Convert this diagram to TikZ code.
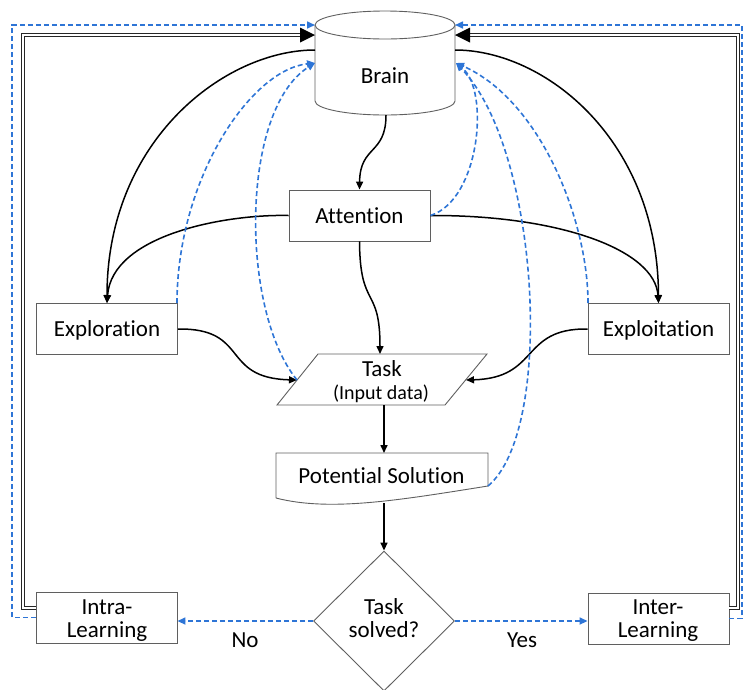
\documentclass[tikz,border=0pt]{standalone}
\usepackage{fontspec}
\setmainfont{Carlito}[Ligatures=NoCommon]
\usetikzlibrary{arrows.meta,shapes.geometric,calc}
\definecolor{dblue}{RGB}{46,117,214}
\definecolor{edge}{RGB}{95,95,95}
\begin{document}
\begin{tikzpicture}[x=1pt,y=-1pt,
  box/.style={draw=edge, line width=0.9pt, fill=white, minimum width=141pt, minimum height=51pt, inner sep=0pt, text height=15pt, text depth=0pt, font=\fontsize{23}{24}\selectfont},
  lbl/.style={font=\fontsize{23}{24}\selectfont, inner sep=0pt},
  small/.style={font=\fontsize{20}{21}\selectfont, inner sep=0pt},
  shp/.style={draw=edge, line width=0.9pt, fill=white},
  blk/.style={draw=black, line width=1.5pt, -{Triangle[length=8pt,width=7pt]}},
  blu/.style={draw=dblue, line width=1.6pt, dash pattern=on 5pt off 3pt, -{Triangle[length=8pt,width=7pt]}},
  dbl/.style={draw=black!85, double=white, line width=1.3pt, double distance=2pt, shorten >=14pt},
  bigtip/.style={fill=black}
]
\useasboundingbox (0,0) rectangle (743,689);

% ---- named coordinates
\coordinate (brainTL) at (315,25);
\coordinate (brainTR) at (455,25);
\coordinate (brainL2) at (315,35);
\coordinate (brainR2) at (455,35);
\coordinate (brainL3) at (315,50);
\coordinate (brainR3) at (455,50);
\coordinate (brainL4) at (315,63);
\coordinate (brainR4) at (456,63);
\coordinate (brainB) at (386,115);
\coordinate (taskN) at (380,354);
\coordinate (taskS) at (384,405);
\coordinate (taskW) at (297,380);
\coordinate (taskE) at (466,380);
\coordinate (solN) at (384,453);
\coordinate (solS) at (384,503);
\coordinate (solE) at (488,486);
\coordinate (explorNE) at (177,303);
\coordinate (exploitNW) at (588,303);
\coordinate (leftOut) at (12,25);
\coordinate (rightOut) at (742,25);
\coordinate (leftIn) at (23,35);
\coordinate (rightIn) at (738,35);
\coordinate (intraD) at (36,608);
\coordinate (interD) at (729,608);

% ---- Brain cylinder
\draw[shp] (315,25) -- (315,101) .. controls (315,108.7) and (346.3,115) .. (385,115)
  .. controls (423.7,115) and (455,108.7) .. (455,101) -- (455,25);
\draw[shp] (385,25) ellipse [x radius=70pt, y radius=14pt];
\node[lbl, anchor=base] (brain) at (385,83) {Brain};

% ---- boxes
\node[box] (att) at (359.5,215.5) {Attention};
\node[box] (explor) at (107,329) {Exploration};
\node[box] (exploit) at (658.5,329) {Exploitation};
\node[box] (intra) at (106.5,617.5) {};
\node[box] (inter) at (658.5,618.5) {};
\node[lbl, anchor=base] (intraA) at (107,614) {Intra-};
\node[lbl, anchor=base] (intraB) at (107,637) {Learning};
\node[lbl, anchor=base] (interA) at (658,614) {Inter-};
\node[lbl, anchor=base] (interB) at (658,637) {Learning};

% ---- Task parallelogram
\draw[shp] (318,354) -- (487,354) -- (445,405) -- (277,405) -- cycle;
\node[lbl, anchor=base] (taskA) at (382,376) {Task};
\node[small, anchor=base] (taskB) at (381,399) {(Input data)};

% ---- Potential solution (document)
\draw[shp] (276,498) -- (276,453) -- (488,453) -- (488,486)
  .. controls (400,500) and (330,512) .. (276,498);
\node[lbl, anchor=base] (sol) at (381.5,483) {Potential Solution};

% ---- decision
\node[diamond, draw=edge, line width=0.9pt, fill=white, minimum width=141pt, minimum height=140pt, aspect=1, inner sep=0pt] (dia) at (384,621) {};
\node[lbl, anchor=base] (diaA) at (384,614) {Task};
\node[lbl, anchor=base] (diaB) at (384,637) {solved?};

\node[lbl, anchor=base] (no) at (245,647) {No};
\node[lbl, anchor=base] (yes) at (522,647) {Yes};

% ---- black connectors
\draw[blk] (brainB) .. controls (386,155) and (360,145) .. (att.north);
\draw[blk] (att.south) .. controls (360,310) and (380,285) .. (taskN);
\draw[blk] (brainL3) .. controls (225,50) and (107,140) .. (explor.north);
\draw[blk] (brainR3) .. controls (545,50) and (658,140) .. (exploit.north);
\draw[blk] (att.west) .. controls (225,214) and (112,235) .. (explor.north);
\draw[blk] (att.east) .. controls (560,215) and (655,250) .. (exploit.north);
\draw[blk] (explor.east) .. controls (250,328) and (220,378) .. (taskW);
\draw[blk] (exploit.west) .. controls (520,328) and (540,378) .. (taskE);
\draw[blk] (taskS) -- (solN);
\draw[blk] (solS) -- (dia.north);

% ---- blue dashed feedback
\draw[blu] (explorNE) .. controls (177,180) and (250,70) .. (brainL4);
\draw[blu] (taskW) .. controls (240,310) and (240,110) .. (brainL4);
\draw[blu] (att.east) .. controls (480,200) and (490,90) .. (brainR4);
\draw[blu] (solE) .. controls (555,430) and (540,150) .. (brainR4);
\draw[blu] (exploitNW) .. controls (588,220) and (540,100) .. (brainR4);
\draw[blu] (dia.west) -- (dia.west -| intra.east);
\draw[blu] (dia.east) -- (dia.east -| inter.west);
\draw[blu] (intra.west) -| (leftOut) -- (brainTL);
\draw[blu] (inter.east) -| (rightOut) -- (brainTR);

% ---- double-line loops
\draw[dbl] (intraD) -| (leftIn) -- (brainL2);
\draw[dbl] (interD) -| (rightIn) -- (brainR2);
\fill[bigtip] (brainL2) -- ($(brainL2)+(-15,-7.5)$) -- ($(brainL2)+(-15,7.5)$) -- cycle;
\fill[bigtip] (brainR2) -- ($(brainR2)+(15,-7.5)$) -- ($(brainR2)+(15,7.5)$) -- cycle;
\end{tikzpicture}
\end{document}
